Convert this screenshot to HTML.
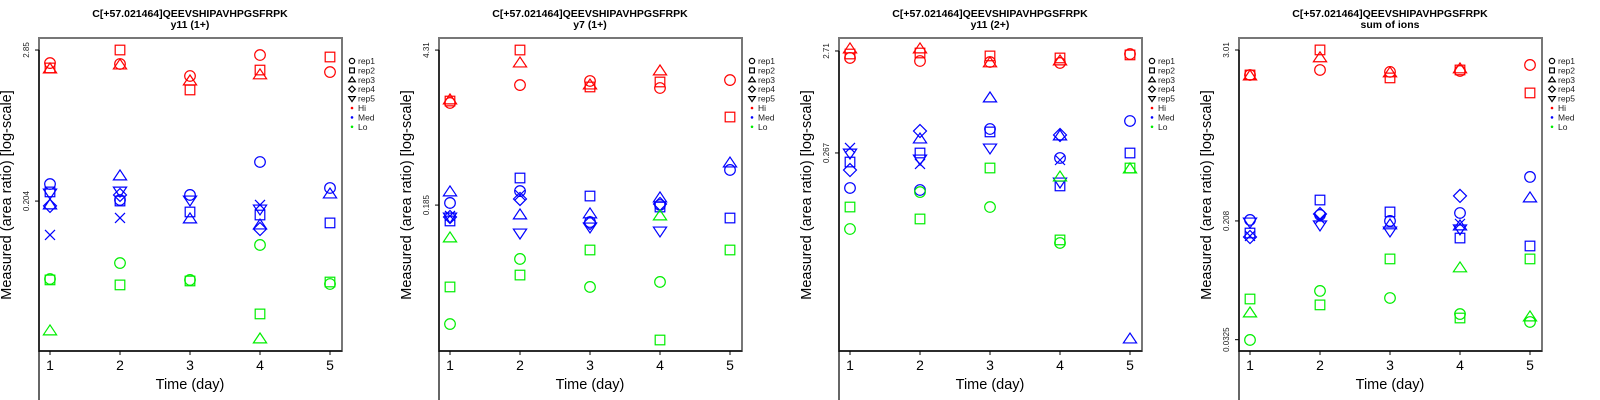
<!DOCTYPE html>
<html><head><meta charset="utf-8"><style>
html,body{margin:0;padding:0;background:#fff;}
svg{display:block;font-family:"Liberation Sans",sans-serif;}
</style></head><body>
<svg id="chart" width="1600" height="400" viewBox="0 0 1600 400" xmlns="http://www.w3.org/2000/svg"></svg>
<script>
// Values are log10(area ratio)
const days = [1, 2, 3, 4, 5];
const panelTitles = ["y11 (1+)", "y7 (1+)", "y11 (2+)", "sum of ions"];
const peptide = "C[+57.021464]QEEVSHIPAVHPGSFRPK";
const tickLabels1 = ["2.85", "0.204"];
const tickLabels2 = ["4.31", "0.185"];
const tickLabels3 = ["2.71", "0.267"];
const tickLabels4 = ["3.01", "0.208", "0.0325"];
const domain1 = [0.546, -1.827];
const domain2 = [0.741, -2.020];
const domain3 = [0.561, -2.528];
const domain4 = [0.560, -1.565];
const legendLabels = ["rep1", "rep2", "rep3", "rep4", "rep5", "Hi", "Med", "Lo"];

// panel 1
const p1_hi_rep1 = [0.356, 0.349, 0.258, 0.417, 0.288];
const p1_hi_rep2 = [0.319, 0.455, 0.152, 0.303, 0.402];
const p1_hi_rep3 = [0.311, 0.341, 0.220, 0.266, null];
const p1_med_rep1 = [-0.561, -0.682, -0.644, -0.394, -0.591];
const p1_med_rep2 = [-0.621, -0.690, -0.773, -0.796, -0.856];
const p1_med_rep3 = [-0.720, -0.500, -0.826, -0.872, -0.637];
const p1_med_rep4 = [-0.727, -0.644, null, -0.902, null];
const p1_med_rep5 = [-0.629, -0.614, -0.682, -0.750, null];
const p1_med_rep6 = [-0.947, -0.818, null, -0.720, null];
const p1_lo_rep1 = [-1.281, -1.160, -1.288, -1.023, -1.319];
const p1_lo_rep2 = [-1.288, -1.326, -1.296, -1.546, -1.304];
const p1_lo_rep3 = [-1.675, null, null, -1.736, null];
// panel 2
const p2_hi_rep1 = [0.168, 0.326, 0.362, 0.300, 0.370];
const p2_hi_rep2 = [0.185, 0.635, 0.309, 0.353, 0.044];
const p2_hi_rep3 = [0.194, 0.520, 0.326, 0.450, null];
const p2_med_rep1 = [-0.714, -0.609, -0.882, -0.732, -0.423];
const p2_med_rep2 = [-0.873, -0.494, -0.653, -0.750, -0.847];
const p2_med_rep3 = [-0.617, -0.820, -0.811, -0.670, -0.362];
const p2_med_rep4 = [-0.838, -0.679, -0.891, -0.723, null];
const p2_med_rep5 = [-0.838, -0.979, -0.926, -0.961, null];
const p2_med_rep6 = [-0.829, -0.644, null, null, null];
const p2_lo_rep1 = [-1.782, -1.208, -1.455, -1.411, null];
const p2_lo_rep2 = [-1.455, -1.350, -1.129, -1.923, -1.129];
const p2_lo_rep3 = [-1.023, null, null, -0.829, null];
// panel 3
const p3_hi_rep1 = [0.364, 0.334, 0.324, 0.315, 0.403];
const p3_hi_rep2 = [0.403, 0.413, 0.384, 0.364, 0.394];
const p3_hi_rep3 = [0.453, 0.453, 0.315, 0.334, null];
const p3_med_rep1 = [-0.919, -0.939, -0.337, -0.623, -0.258];
const p3_med_rep2 = [-0.663, -0.574, -0.366, -0.899, -0.574];
const p3_med_rep3 = [null, -0.436, -0.031, -0.406, -2.410];
const p3_med_rep4 = [-0.742, -0.357, null, -0.396, null];
const p3_med_rep5 = [-0.574, -0.633, -0.524, -0.860, null];
const p3_med_rep6 = [-0.524, -0.682, null, -0.643, null];
const p3_lo_rep1 = [-1.324, -0.959, -1.107, -1.462, null];
const p3_lo_rep2 = [-1.107, -1.225, -0.722, -1.432, -0.722];
const p3_lo_rep3 = [null, null, null, -0.811, -0.732];
// panel 4
const p4_hi_rep1 = [0.309, 0.343, 0.330, 0.336, 0.377];
const p4_hi_rep2 = [0.309, 0.479, 0.289, 0.343, 0.187];
const p4_hi_rep3 = [0.302, 0.425, 0.323, 0.350, null];
const p4_med_rep1 = [-0.675, -0.641, -0.682, -0.628, -0.383];
const p4_med_rep2 = [-0.764, -0.540, -0.621, -0.798, -0.852];
const p4_med_rep3 = [null, null, -0.709, -0.716, -0.526];
const p4_med_rep4 = [-0.791, -0.635, null, -0.512, null];
const p4_med_rep5 = [-0.689, -0.709, -0.750, -0.736, null];
const p4_med_rep6 = [-0.784, -0.669, null, -0.702, null];
const p4_lo_rep1 = [-1.490, -1.157, -1.205, -1.314, -1.368];
const p4_lo_rep2 = [-1.212, -1.252, -0.940, -1.341, -0.940];
const p4_lo_rep3 = [-1.307, null, null, -1.001, -1.334];

const NS = "http://www.w3.org/2000/svg";
const svg = document.getElementById("chart");
const colors = {hi: "#ff0000", med: "#0000ff", lo: "#00ee00"};
const panels = [
  {ticks: tickLabels1, domain: domain1, series: [
    ["hi",1,p1_hi_rep1],["hi",2,p1_hi_rep2],["hi",3,p1_hi_rep3],
    ["med",1,p1_med_rep1],["med",2,p1_med_rep2],["med",3,p1_med_rep3],["med",4,p1_med_rep4],["med",5,p1_med_rep5],["med",6,p1_med_rep6],
    ["lo",1,p1_lo_rep1],["lo",2,p1_lo_rep2],["lo",3,p1_lo_rep3]]},
  {ticks: tickLabels2, domain: domain2, series: [
    ["hi",1,p2_hi_rep1],["hi",2,p2_hi_rep2],["hi",3,p2_hi_rep3],
    ["med",1,p2_med_rep1],["med",2,p2_med_rep2],["med",3,p2_med_rep3],["med",4,p2_med_rep4],["med",5,p2_med_rep5],["med",6,p2_med_rep6],
    ["lo",1,p2_lo_rep1],["lo",2,p2_lo_rep2],["lo",3,p2_lo_rep3]]},
  {ticks: tickLabels3, domain: domain3, series: [
    ["hi",1,p3_hi_rep1],["hi",2,p3_hi_rep2],["hi",3,p3_hi_rep3],
    ["med",1,p3_med_rep1],["med",2,p3_med_rep2],["med",3,p3_med_rep3],["med",4,p3_med_rep4],["med",5,p3_med_rep5],["med",6,p3_med_rep6],
    ["lo",1,p3_lo_rep1],["lo",2,p3_lo_rep2],["lo",3,p3_lo_rep3]]},
  {ticks: tickLabels4, domain: domain4, series: [
    ["hi",1,p4_hi_rep1],["hi",2,p4_hi_rep2],["hi",3,p4_hi_rep3],
    ["med",1,p4_med_rep1],["med",2,p4_med_rep2],["med",3,p4_med_rep3],["med",4,p4_med_rep4],["med",5,p4_med_rep5],["med",6,p4_med_rep6],
    ["lo",1,p4_lo_rep1],["lo",2,p4_lo_rep2],["lo",3,p4_lo_rep3]]}
];

function mk(tag, attrs, parent) {
  const e = document.createElementNS(NS, tag);
  for (const k in attrs) e.setAttribute(k, attrs[k]);
  (parent || svg).appendChild(e);
  return e;
}
function marker(g, rep, cx, cy, col, s) {
  s = s || 1;
  const st = {fill: "none", stroke: col, "stroke-width": 1.2};
  let e;
  if (rep === 1) e = mk("circle", Object.assign({cx: cx, cy: cy, r: 5.3 * s}, st), g);
  else if (rep === 2) { const h = 4.8 * s; e = mk("rect", Object.assign({x: cx - h, y: cy - h, width: 2 * h, height: 2 * h}, st), g); }
  else if (rep === 3) { const h = 6 * s; e = mk("polygon", Object.assign({points: `${cx},${cy - h} ${cx - h * 1.1},${cy + h * 0.65} ${cx + h * 1.1},${cy + h * 0.65}`}, st), g); }
  else if (rep === 4) { const h = 6.5 * s; e = mk("polygon", Object.assign({points: `${cx},${cy - h} ${cx + h},${cy} ${cx},${cy + h} ${cx - h},${cy}`}, st), g); }
  else if (rep === 5) { const h = 6 * s; e = mk("polygon", Object.assign({points: `${cx},${cy + h} ${cx - h * 1.1},${cy - h * 0.65} ${cx + h * 1.1},${cy - h * 0.65}`}, st), g); }
  else { const h = 5 * s; e = mk("path", Object.assign({d: `M${cx - h},${cy - h}L${cx + h},${cy + h}M${cx - h},${cy + h}L${cx + h},${cy - h}`}, st), g); }
  return e;
}

const BL = 39, BR = 342, BT = 38, BB = 351;
panels.forEach((p, i) => {
  const ox = i * 400;
  const g = mk("g", {transform: `translate(${ox},0)`});
  
  
  const xs = d => 50 + (d - 1) * 70;
  const ys = v => BT + (p.domain[0] - v) / (p.domain[0] - p.domain[1]) * (BB - BT);
  // title
  const t1 = mk("text", {x: 190, y: 17, "text-anchor": "middle", "font-size": 10.5, "font-weight": "bold"}, g);
  t1.textContent = peptide;
  
  
  const t2 = mk("text", {x: 190, y: 28, "text-anchor": "middle", "font-size": 10.5, "font-weight": "bold"}, g);
  t2.textContent = panelTitles[i];
  
  
  // box
  const box = mk("rect", {x: BL, y: BT, width: BR - BL, height: BB - BT, fill: "none", stroke: "#777", "stroke-width": 2}, g);
  
  
  // y axis
  const tickVals = p.ticks.map(Number);
  const yTop = ys(Math.log10(tickVals[0]));
  const yax = mk("line", {x1: BL, y1: yTop, x2: BL, y2: 400, stroke: "#000", "stroke-width": 1.2}, g);
  
  
  p.ticks.forEach(lbl => {
    const y = ys(Math.log10(Number(lbl)));
    const tk = mk("line", {x1: BL - 4, y1: y, x2: BL, y2: y, stroke: "#000"}, g);
    
    
    const tx = mk("text", {x: 0, y: 0, transform: `translate(29,${y}) rotate(-90)`, "text-anchor": "middle", "font-size": 8, fill: "#222"}, g);
    tx.textContent = lbl;
    
    
  });
  // x axis
  const xax = mk("line", {x1: BL, y1: BB, x2: BR, y2: BB, stroke: "#000", "stroke-width": 1.2}, g);
  
  
  days.forEach(d => {
    const x = xs(d);
    const tk = mk("line", {x1: x, y1: BB, x2: x, y2: BB + 4, stroke: "#000"}, g);
    
    
    const tx = mk("text", {x: x, y: 370, "text-anchor": "middle", "font-size": 14}, g);
    tx.textContent = String(d);
    
    
  });
  const xl = mk("text", {x: 190, y: 389, "text-anchor": "middle", "font-size": 14.5}, g);
  xl.textContent = "Time (day)";
  
  
  const yl = mk("text", {x: 0, y: 0, transform: `translate(11,195) rotate(-90)`, "text-anchor": "middle", "font-size": 14.5}, g);
  yl.textContent = "Measured (area ratio) [log-scale]";
  
  
  // points
  p.series.forEach(s => {
    s[2].forEach((v, di) => {
      if (v === null) return;
      const m = marker(g, s[1], xs(days[di]), ys(v), colors[s[0]]);
      
      
    });
  });
  // legend
  const lg = mk("g", {}, g);
  
  
  legendLabels.forEach((lbl, k) => {
    const y = 61 + k * 9.4;
    if (k < 5) marker(lg, k + 1, 352, y, "#000", 0.5);
    else mk("circle", {cx: 352, cy: y, r: 1.3, fill: [colors.hi, colors.med, colors.lo][k - 5]}, lg);
    const tx = mk("text", {x: 358, y: y + 3, "font-size": 8.5, fill: "#222"}, lg);
    tx.textContent = lbl;
    
    
  });
});
</script>
</body></html>
